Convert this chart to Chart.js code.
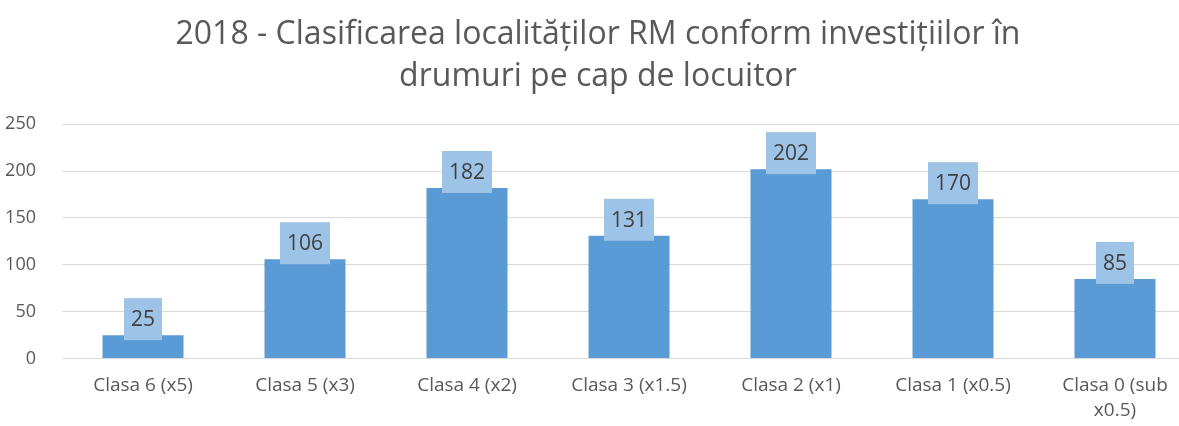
<!DOCTYPE html>
<html>
<head>
<meta charset="utf-8">
<script src="https://cdn.jsdelivr.net/npm/chart.js@4"></script>
<style>
  html, body { margin: 0; padding: 0; background: #fff; overflow: hidden; }
  #wrap { width: 1196px; height: 426px; }
</style>
</head>
<body>
<div id="wrap"><canvas id="chart"></canvas></div>
<script>
const TITLE_LINES = ['2018 - Clasificarea localităților RM conform investițiilor în', 'drumuri pe cap de locuitor'];
const CATEGORIES = [
  'Clasa 6 (x5)', 'Clasa 5 (x3)', 'Clasa 4 (x2)', 'Clasa 3 (x1.5)',
  'Clasa 2 (x1)', 'Clasa 1 (x0.5)', ['Clasa 0 (sub', 'x0.5)']
];
const COUNTS = [25, 106, 182, 131, 202, 170, 85];
const Y_MAX = 250;
const Y_STEP = 50;

const FONT = '"Open Sans", Lato, sans-serif';

// ─── Value labels: light blue box centred just above the bar top ───
const valueBoxes = {
  id: 'valueBoxes',
  afterDatasetsDraw(chart) {
    const { ctx } = chart;
    const meta = chart.getDatasetMeta(0);
    ctx.save();
    ctx.font = '21px ' + FONT;
    ctx.textAlign = 'center';
    ctx.textBaseline = 'middle';
    meta.data.forEach((bar, i) => {
      const txt = String(COUNTS[i]);
      const w = ctx.measureText(txt).width + 14;
      const h = 42;
      const cy = bar.y - 16;
      ctx.fillStyle = '#9dc3e6';
      ctx.fillRect(bar.x - w / 2, cy - h / 2, w, h);
      ctx.fillStyle = '#404040';
      ctx.fillText(txt, bar.x, cy + 1);
    });
    ctx.restore();
  }
};

new Chart(document.getElementById('chart'), {
  type: 'bar',
  data: {
    labels: CATEGORIES,
    datasets: [{
      data: COUNTS,
      backgroundColor: '#5b9bd5',
      barPercentage: 0.5,
      categoryPercentage: 1
    }]
  },
  options: {
    responsive: true,
    maintainAspectRatio: false,
    animation: false,
    layout: { padding: { top: 12, bottom: -4, left: 0, right: 0 } },
    scales: {
      x: {
        grid: { display: false },
        border: { color: '#d9d9d9' },
        ticks: { color: '#595959', font: { family: FONT, size: 19, lineHeight: 1.3 }, padding: 7, maxRotation: 0, autoSkip: false }
      },
      y: {
        min: 0,
        max: Y_MAX,
        afterFit(scale) { scale.width = 62; },
        ticks: { stepSize: Y_STEP, color: '#595959', font: { family: FONT, size: 18 }, padding: 26 },
        grid: { color: '#d9d9d9', drawTicks: false },
        border: { display: false }
      }
    },
    plugins: {
      legend: { display: false },
      tooltip: { enabled: false },
      title: {
        display: true,
        text: TITLE_LINES,
        color: '#595959',
        font: { family: FONT, size: 32, weight: 'normal', lineHeight: 1.3 },
        padding: { top: 2, bottom: 27 }
      }
    }
  },
  plugins: [valueBoxes]
});
</script>
</body>
</html>
